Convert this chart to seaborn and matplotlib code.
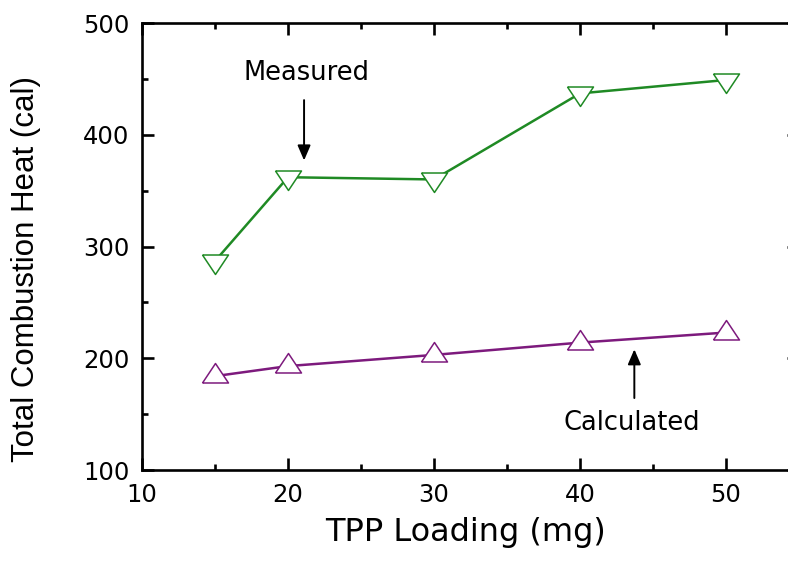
import numpy as np
import pandas as pd
import seaborn as sns
import matplotlib
matplotlib.use("Agg")
import matplotlib.pyplot as plt
from matplotlib.ticker import MultipleLocator

# ---- data ----
tpp_loading = [15, 20, 30, 40, 50]
measured = [287, 362, 360, 437, 449]
calculated = [184, 193, 203, 214, 223]
x_ticks = [10, 20, 30, 40, 50]
y_ticks = [100, 200, 300, 400, 500]

sns.set_theme(style="ticks")
plt.rcParams['font.family'] = ['DejaVu Sans']
plt.rcParams.update({
    'axes.axisbelow': False,
    'text.color': 'black', 'axes.labelcolor': 'black',
    'xtick.color': 'black', 'ytick.color': 'black',
    'xtick.labelcolor': 'black', 'ytick.labelcolor': 'black',
    'xtick.direction': 'in', 'ytick.direction': 'in',
    'xtick.top': True, 'ytick.right': True,
    'xtick.major.size': 8.6, 'ytick.major.size': 8.6,
    'xtick.minor.size': 4.3, 'ytick.minor.size': 4.3,
    'xtick.major.width': 1.9, 'ytick.major.width': 1.9,
    'xtick.minor.width': 1.9, 'ytick.minor.width': 1.9,
    'xtick.major.pad': 9, 'ytick.major.pad': 9,
    'xtick.labelsize': 17.5, 'ytick.labelsize': 17.5,
    'axes.edgecolor': 'black', 'axes.linewidth': 1.9,
})

fig, ax = plt.subplots(figsize=(7.88, 5.61), dpi=100)
fig.subplots_adjust(left=0.1802, right=1.014, bottom=0.1622, top=0.959)

green = '#1f8a24'
purple = '#7d1a7d'

# centroid-centred triangles
tri_down = [(-1, 0.5), (1, 0.5), (0, -1), (-1, 0.5)]
tri_up = [(-1, -0.5), (1, -0.5), (0, 1), (-1, -0.5)]

sns.lineplot(x=tpp_loading, y=measured, ax=ax, color=green, lw=1.8,
             marker=tri_down, markersize=18.7, markerfacecolor='white',
             markeredgecolor=green, markeredgewidth=1.1)
sns.lineplot(x=tpp_loading, y=calculated, ax=ax, color=purple, lw=1.8,
             marker=tri_up, markersize=18.7, markerfacecolor='white',
             markeredgecolor=purple, markeredgewidth=1.1)

ax.set_xlim(10, 55)
ax.set_ylim(100, 500)
ax.set_xticks(x_ticks)
ax.set_yticks(y_ticks)
ax.xaxis.set_minor_locator(MultipleLocator(5))
ax.yaxis.set_minor_locator(MultipleLocator(50))

ax.set_xlabel('TPP Loading (mg)', fontsize=23, color='black')
ax.set_ylabel('Total Combustion Heat (cal)', fontsize=22.5, color='black',
              family=['Liberation Sans', 'DejaVu Sans'])
ax.xaxis.set_label_coords(0.492, -0.105)
ax.yaxis.set_label_coords(-0.153, 0.45)

astyle = '-|>,head_length=0.65,head_width=0.28'
ax.annotate('', xy=(21.1, 377), xytext=(21.1, 431),
            arrowprops=dict(arrowstyle=astyle, color='black', lw=1.4,
                            mutation_scale=14, shrinkA=0, shrinkB=0))
ax.text(21.3, 449, 'Measured', ha='center', va='baseline', fontsize=18.5,
        color='black')

ax.annotate('', xy=(43.72, 208), xytext=(43.72, 164.4),
            arrowprops=dict(arrowstyle=astyle, color='black', lw=1.4,
                            mutation_scale=14, shrinkA=0, shrinkB=0))
ax.text(43.56, 135.8, 'Calculated', ha='center', va='baseline', fontsize=18.5,
        color='black')

# make sure every tick mark is drawn explicitly
ax.set_axisbelow(False)
for axis in (ax.xaxis, ax.yaxis):
    axis.set_zorder(5)
    for t in axis.get_major_ticks():
        for ln in (t.tick1line, t.tick2line):
            ln.set_visible(True)
            ln.set_markersize(8.6)
            ln.set_markeredgewidth(1.9)
            ln.set_color('black')
            ln.set_markeredgecolor('black')
            ln.set_alpha(1)
    for t in axis.get_minor_ticks():
        for ln in (t.tick1line, t.tick2line):
            ln.set_visible(True)
            ln.set_markersize(4.3)
            ln.set_markeredgewidth(1.9)
            ln.set_color('black')
            ln.set_markeredgecolor('black')

fig.savefig('out.png', dpi=100)
